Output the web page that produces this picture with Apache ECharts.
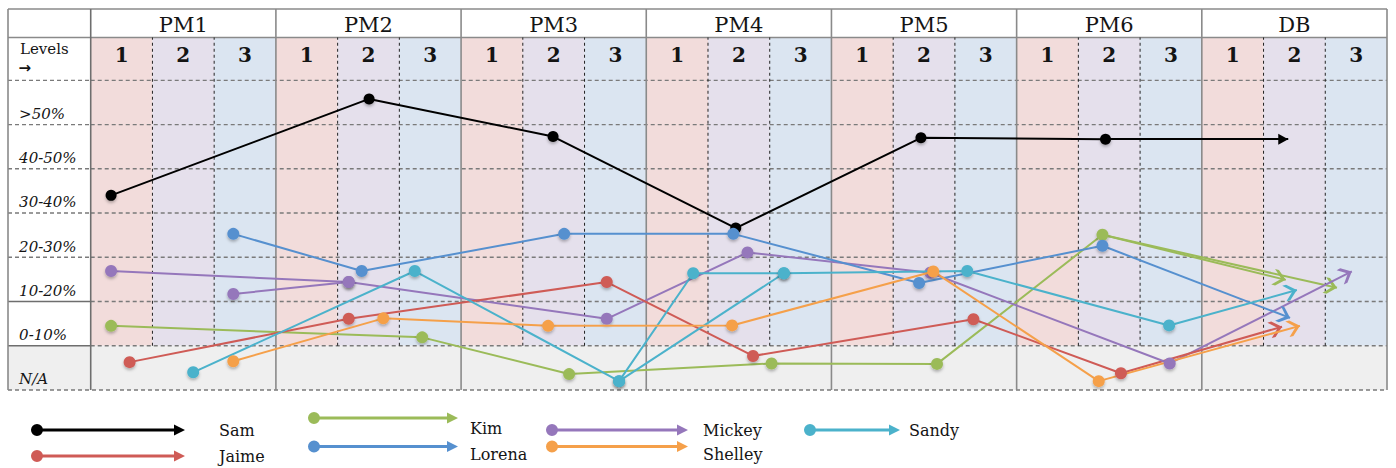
<!DOCTYPE html>
<html>
<head>
<meta charset="utf-8">
<script src="https://cdn.jsdelivr.net/npm/echarts@6/dist/echarts.min.js"></script>
<style>html,body{margin:0;padding:0;background:#fff}#chart{width:1396px;height:468px}</style>
</head>
<body>
<div id="chart"></div>
<script>
// ---------------- data ----------------
const groups = ['PM1', 'PM2', 'PM3', 'PM4', 'PM5', 'PM6', 'DB'];
const levels = ['1', '2', '3'];
const rowLabels = ['N/A', '0-10%', '10-20%', '20-30%', '30-40%', '40-50%', '>50%']; // bottom -> top
const levelsHeader = 'Levels';
const levelsArrow = '→';
const names = ['Sam', 'Jaime', 'Kim', 'Lorena', 'Mickey', 'Shelley', 'Sandy'];
const colors = ['#000000', '#cf5b56', '#9bbb59', '#5690cf', '#9577bb', '#f5a04a', '#4bb2cb'];
const levelColors = ['#f2dcdb', '#e5e0ec', '#dbe5f1'];

// x: position across the 21 level columns (PM1 level 1 = 0..1), y: position across result rows (N/A = 0..1, >50% = 6..7)
const samPts      = [[0.33, 4.40], [4.51, 6.58], [7.49, 5.73], [10.45, 3.66], [13.45, 5.70], [16.44, 5.67]];
const samEnd      = [[19.40, 5.67]];
const jaimePts    = [[0.63, 0.63], [4.18, 1.61], [8.36, 2.44], [10.73, 0.77], [14.30, 1.60], [16.69, 0.38]];
const jaimeEnd    = [[19.30, 1.43]];
const kimPts      = [[0.33, 1.45], [5.37, 1.19], [7.75, 0.36], [11.03, 0.60], [13.71, 0.59], [16.39, 3.51]];
const kimEnd      = [[19.36, 2.49], [20.19, 2.31]];
const lorenaPts   = [[2.31, 3.53], [4.39, 2.69], [7.67, 3.53], [10.41, 3.53], [13.42, 2.42], [16.39, 3.26]];
const lorenaEnd   = [[19.43, 1.63]];
const mickeyPts   = [[0.33, 2.69], [4.18, 2.44], [8.36, 1.61], [10.64, 3.11], [13.60, 2.65], [17.48, 0.60]];
const mickeyExtra = [[2.31, 2.17], [4.18, 2.44]];
const mickeyEnd   = [[20.43, 2.68]];
const shelleyPts  = [[2.31, 0.65], [4.74, 1.62], [7.41, 1.45], [10.39, 1.46], [13.65, 2.68], [16.33, 0.20]];
const shelleyEnd  = [[19.59, 1.45]];
const sandyPts    = [[1.66, 0.40], [5.25, 2.69], [8.56, 0.20], [9.76, 2.64], [11.23, 2.64], [14.20, 2.69], [17.47, 1.46]];
const sandyExtra  = [[8.56, 0.20], [11.23, 2.64]];
const sandyEnd    = [[19.54, 2.26]];

// ---------------- layout constants ----------------
const X0 = -1.34, X1 = 21;          // label column start, table end
const YH = 7.97, YTOP = 8.613;       // header (levels) top, top border
const NCOL = groups.length * levels.length;

// background cells
const cells = [];
for (let c = 0; c < NCOL; c++) cells.push([c, c + 1, 1, YH, levelColors[c % 3]]);
cells.push([X0, X1, 0, 1, '#efefef']);

// table lines [x1,y1,x2,y2,kind]
const segs = [];
segs.push([X0, YTOP, X1, YTOP, 'border']);
segs.push([X0, YH, X1, YH, 'border']);
for (let k = 1; k <= 7; k++) {
  segs.push([0, k, X1, k, 'hdash']);
  segs.push([X0, k, 0, k, k <= 2 ? 'dark' : 'hdash']);
}
segs.push([X0, 0, X1, 0, 'hdash']);
segs.push([X0, 0, X0, YTOP, 'border']);
for (let g = 0; g <= groups.length; g++) segs.push([g * 3, 0, g * 3, YTOP, g === 0 ? 'dark' : 'border']);
for (let c = 1; c < NCOL; c++) if (c % 3 !== 0) segs.push([c, 1, c, YH, 'vdash']);

const lineStyles = {
  border: { stroke: '#8a8a8a', lineWidth: 1.6 },
  dark: { stroke: '#6e6e6e', lineWidth: 1.6 },
  hdash: { stroke: '#7a7a7a', lineWidth: 1.4, lineDash: [4, 3] },
  vdash: { stroke: '#222', lineWidth: 1, lineDash: [3, 3] }
};

// texts
const SERIF = '"DejaVu Serif", "Liberation Serif", serif';
const texts = [];
groups.forEach((g, i) => texts.push({ x: i * 3 + 1.5, y: 8.25, text: g, size: 21, align: 'center' }));
for (let c = 0; c < NCOL; c++) texts.push({ x: c + 0.5, y: 7.58, text: levels[c % 3], size: 20, weight: 'bold', align: 'center' });
texts.push({ x: -1.145, y: 7.71, text: levelsHeader, size: 15, align: 'left' });
texts.push({ x: -1.17, y: 7.29, text: levelsArrow, size: 15, weight: 'bold', align: 'left', family: '"DejaVu Sans", sans-serif' });
rowLabels.forEach((r, k) => texts.push({ x: -1.16, y: k + 0.24, text: r, size: 15, italic: true, align: 'left' }));

// arrow heads (tip at symbol centre, pointing "up" = along the line)
const chevron = 'path://M8,0 L8,0 M8,13 L16,22 L16,26 L8,17.5 L0,26 L0,22 Z';
const triangle = 'path://M5.5,0 L5.5,0 M5.5,10 L11,20 L0,20 Z';

const people = [
  { name: 'Sam', pts: samPts, ends: samEnd, z: 10 },
  { name: 'Kim', pts: kimPts, ends: kimEnd, z: 11 },
  { name: 'Mickey', pts: mickeyPts, ends: mickeyEnd, extra: mickeyExtra, z: 12 },
  { name: 'Lorena', pts: lorenaPts, ends: lorenaEnd, z: 13 },
  { name: 'Jaime', pts: jaimePts, ends: jaimeEnd, z: 14 },
  { name: 'Sandy', pts: sandyPts, ends: sandyEnd, extra: sandyExtra, z: 15 },
  { name: 'Shelley', pts: shelleyPts, ends: shelleyEnd, z: 16 }
];

const shadow = { shadowColor: 'rgba(0,0,0,0.28)', shadowBlur: 3, shadowOffsetY: 2 };

const series = [
  {
    type: 'custom', name: 'cells', z: 0, silent: true,
    data: cells.map(c => [c[0], c[2]]),
    renderItem: (params, api) => {
      const c = cells[params.dataIndex];
      const p0 = api.coord([c[0], c[3]]), p1 = api.coord([c[1], c[2]]);
      return { type: 'rect', shape: { x: p0[0], y: p0[1], width: p1[0] - p0[0], height: p1[1] - p0[1] }, style: { fill: c[4] } };
    }
  },
  {
    type: 'custom', name: 'rules', z: 1, silent: true,
    data: segs.map(s => [s[0], s[1]]),
    renderItem: (params, api) => {
      const s = segs[params.dataIndex];
      const p0 = api.coord([s[0], s[1]]), p1 = api.coord([s[2], s[3]]);
      return { type: 'line', shape: { x1: p0[0], y1: p0[1], x2: p1[0], y2: p1[1] }, style: Object.assign({ fill: null }, lineStyles[s[4]]) };
    }
  },
  {
    type: 'custom', name: 'labels', z: 2, silent: true,
    data: texts.map(t => [t.x, t.y]),
    renderItem: (params, api) => {
      const t = texts[params.dataIndex];
      const p = api.coord([t.x, t.y]);
      return {
        type: 'text', x: p[0], y: p[1],
        style: {
          text: t.text, fill: '#141414', fontSize: t.size, fontFamily: t.family || SERIF,
          fontStyle: t.italic ? 'italic' : 'normal', fontWeight: t.weight || 'normal',
          align: t.align, verticalAlign: 'middle'
        }
      };
    }
  }
];

people.forEach(p => {
  const color = colors[names.indexOf(p.name)];
  const isSam = p.name === 'Sam';
  const last = p.pts[p.pts.length - 1];
  series.push({
    type: 'line', name: p.name, z: p.z, data: p.pts,
    symbol: 'circle', symbolSize: isSam ? 11 : 12, showSymbol: true,
    color: color,
    lineStyle: { color: color, width: 2 },
    itemStyle: Object.assign({ color: color }, shadow),
    emphasis: { disabled: true },
    markLine: {
      silent: true, symbol: ['none', 'none'], label: { show: false },
      lineStyle: { type: 'solid', color: color, width: 2 },
      emphasis: { disabled: true },
      data: p.ends.map(e => [
        { coord: last },
        { coord: e, symbol: isSam ? triangle : chevron, symbolSize: isSam ? [11, 20] : [16, 26] }
      ])
    }
  });
  if (p.extra) {
    series.push({
      type: 'line', name: p.name, z: p.z, data: p.extra,
      symbol: 'circle', symbolSize: 12, showSymbol: true, color: color,
      lineStyle: { color: color, width: 2 },
      itemStyle: Object.assign({ color: color }, shadow),
      emphasis: { disabled: true }
    });
  }
});

// ---------------- legend (one block per person) ----------------
const legendLeft = [31, 31, 308, 308, 546, 546, 804];
const legendLen  = [154, 154, 150, 150, 142, 142, 96];
const legendText = [219, 219, 470, 470, 703, 703, 909];
const legendTY   = [428, 454, 428, 454, 428, 454, 428];
const legendDy   = [0, 0, 10, 7.5, 0, 7.5, 0];
function legendIcon(L, W, d) {
  const H = 12 + 2 * d;
  const p = 'M0,6 A6,6 0 1,1 12,6 A6,6 0 1,1 0,6 Z ' +
    'M11.5,4.5 L' + (L - 10) + ',4.5 L' + (L - 10) + ',7.5 L11.5,7.5 Z ' +
    'M' + (L - 11) + ',0.5 L' + L + ',6 L' + (L - 11) + ',11.5 Z ' +
    'M' + W + ',' + H + ' L' + W + ',' + H;
  return { path: 'path://' + p, W: W, H: H };
}
const legends = names.map((n, i) => {
  const W = legendText[i] - 5 - legendLeft[i];
  const ic = legendIcon(legendLen[i], W, legendDy[i]);
  return {
    left: legendLeft[i], top: legendTY[i] - ic.H / 2, padding: 0, itemGap: 0,
    selectedMode: false, itemWidth: ic.W, itemHeight: ic.H,
    itemStyle: { borderWidth: 0 },
    data: [{ name: n, icon: ic.path }],
    textStyle: { fontFamily: SERIF, fontSize: 16, color: '#141414' }
  };
});

const chart = echarts.init(document.getElementById('chart'), null, { renderer: 'svg' });
chart.setOption({
  animation: false,
  backgroundColor: '#ffffff',
  grid: { left: 8, right: 9, top: 9, bottom: 78 },
  xAxis: { type: 'value', min: X0, max: X1, show: false },
  yAxis: { type: 'value', min: 0, max: YTOP, show: false },
  legend: legends,
  series: series
});
</script>
</body>
</html>
